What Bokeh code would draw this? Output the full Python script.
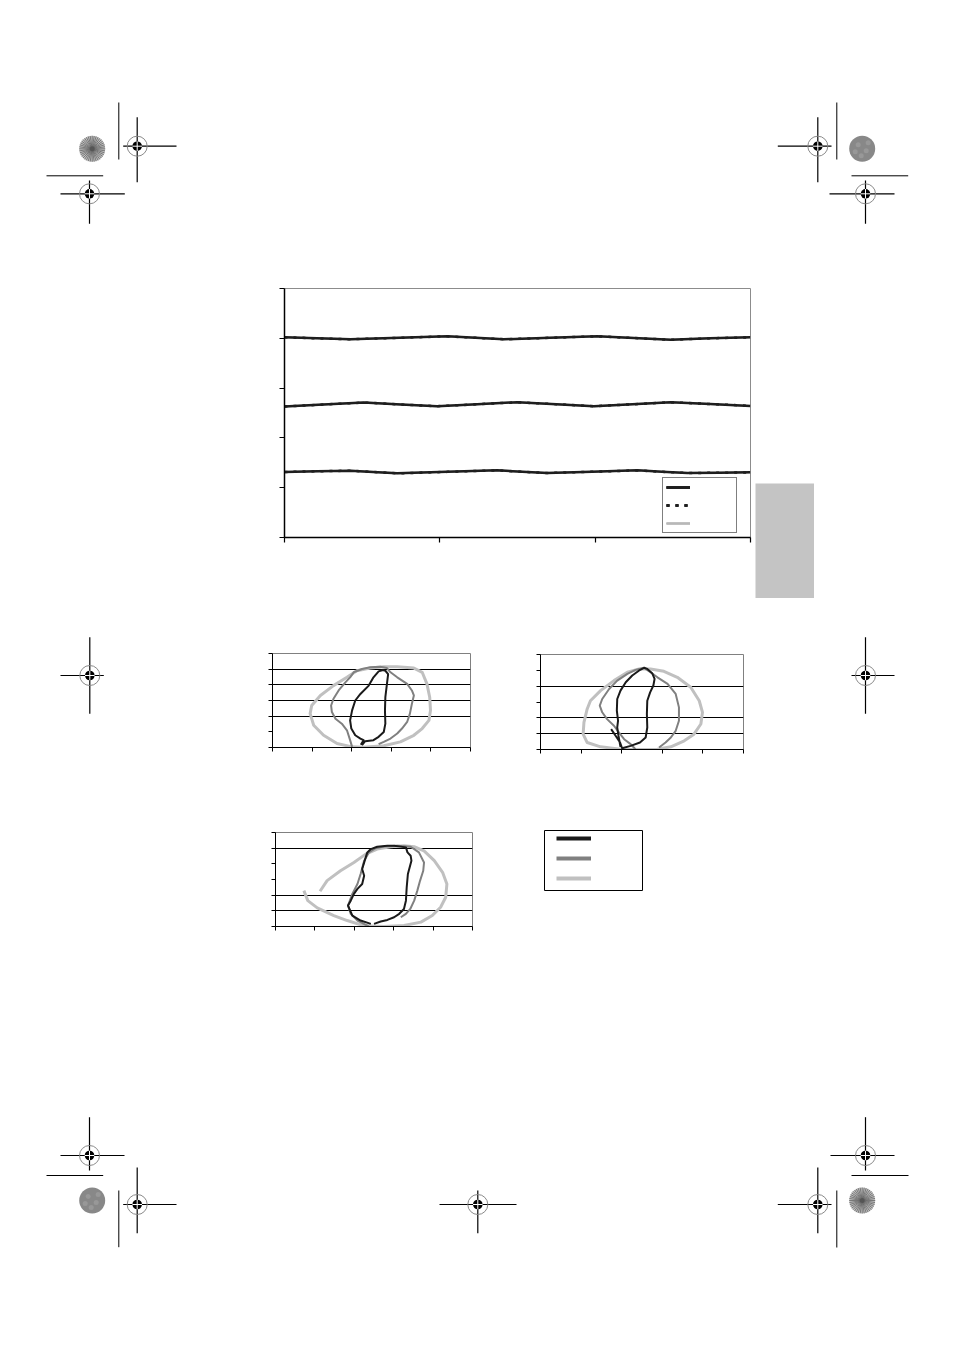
import numpy as np
from bokeh.plotting import figure
from bokeh.models import (Range1d, FixedTicker, CustomJSTickFormatter, Legend,
                          LegendItem, Spacer, ColumnDataSource)
from bokeh.layouts import column, row
from bokeh.embed import file_html
from bokeh.resources import INLINE

# ---------------- data: top chart ----------------
top_x_ticks = [0, 1, 2, 3]
top_y_ticks = [0, 1, 2, 3, 4, 5]

level1_x = [0.0, 0.21, 0.425, 0.74, 1.048, 1.23, 1.412, 1.71, 2.013, 2.25, 2.486, 2.74, 3.0]
level1_y = [4.02, 4.00, 3.98, 4.01, 4.04, 4.01, 3.98, 4.01, 4.04, 4.005, 3.97, 4.00, 4.02]

level2_x = [0.0, 0.25, 0.51, 0.75, 0.983, 1.24, 1.498, 1.75, 1.992, 2.24, 2.486, 2.74, 3.0]
level2_y = [2.63, 2.67, 2.71, 2.67, 2.636, 2.675, 2.716, 2.676, 2.636, 2.675, 2.716, 2.68, 2.643]

level3_x = [0.0, 0.21, 0.425, 0.57, 0.725, 1.05, 1.369, 1.53, 1.691, 1.98, 2.271, 2.43, 2.593, 2.8, 3.0]
level3_y = [1.316, 1.33, 1.342, 1.315, 1.288, 1.318, 1.348, 1.32, 1.295, 1.32, 1.348, 1.32, 1.295, 1.30, 1.308]

# ---------------- data: small charts ----------------
small_x_ticks = [0, 1, 2, 3, 4, 5]
small_y_ticks = [0, 1, 2, 3, 4, 5, 6]
c1_grid = [2, 3, 4, 5]
c2_grid = [1, 2, 4]
c3_grid = [1, 2, 5]

c1_black_x = [2.26, 2.34, 2.55, 2.68, 2.81, 2.85, 2.84, 2.85, 2.89, 2.92, 2.85, 2.79, 2.68, 2.55, 2.43, 2.22, 2.09, 2.01, 1.96, 1.99, 2.09, 2.22, 2.30, 2.23]
c1_black_y = [0.15, 0.40, 0.47, 0.68, 0.99, 1.52, 2.37, 3.21, 4.06, 4.69, 4.90, 4.95, 4.86, 4.48, 3.95, 3.42, 3.00, 2.37, 1.73, 1.21, 0.78, 0.57, 0.47, 0.17]
c1_gray_x = [2.01, 1.96, 1.88, 1.75, 1.59, 1.50, 1.48, 1.54, 1.67, 1.84, 1.96, 2.05, 2.26, 2.47, 2.72, 2.89, 2.98, 3.15, 3.40, 3.52, 3.57, 3.52, 3.47, 3.40, 3.27, 3.15, 2.98, 2.81, 2.68]
c1_gray_y = [0.04, 0.47, 1.10, 1.52, 1.84, 2.26, 2.68, 3.11, 3.64, 4.16, 4.48, 4.80, 5.01, 5.12, 5.16, 5.07, 4.80, 4.48, 4.06, 3.64, 3.32, 2.79, 2.16, 1.63, 1.21, 0.89, 0.57, 0.36, 0.21]
c1_light_x = [2.01, 1.63, 1.29, 1.04, 0.95, 0.99, 1.21, 1.54, 1.88, 2.13, 2.47, 2.81, 3.15, 3.57, 3.78, 3.90, 3.97, 3.99, 3.95, 3.78, 3.57, 3.23, 2.81, 2.30, 2.01]
c1_light_y = [0.04, 0.25, 0.78, 1.42, 2.16, 2.68, 3.32, 3.95, 4.48, 4.90, 5.07, 5.16, 5.16, 5.07, 4.80, 4.06, 3.21, 2.37, 1.73, 1.21, 0.78, 0.36, 0.11, 0.02, 0.04]

c2_black_x = [1.74, 1.85, 1.96, 2.01, 2.22, 2.45, 2.59, 2.63, 2.62, 2.63, 2.70, 2.78, 2.81, 2.75, 2.63, 2.55, 2.43, 2.26, 2.10, 1.97, 1.89, 1.88, 1.91, 1.89, 1.92, 1.97]
c2_black_y = [1.29, 0.87, 0.44, 0.08, 0.23, 0.44, 0.76, 1.39, 2.24, 3.08, 3.61, 4.04, 4.46, 4.82, 5.09, 5.16, 4.99, 4.67, 4.25, 3.72, 3.19, 2.45, 1.82, 1.39, 0.87, 0.17]
c2_gray_x = [2.34, 2.22, 2.06, 1.93, 1.81, 1.64, 1.52, 1.46, 1.52, 1.69, 1.89, 2.14, 2.34, 2.55, 2.71, 2.88, 3.13, 3.33, 3.41, 3.41, 3.33, 3.21, 3.08, 2.92]
c2_gray_y = [0.02, 0.34, 0.65, 1.08, 1.50, 1.92, 2.35, 2.77, 3.19, 3.82, 4.35, 4.78, 5.03, 5.16, 4.88, 4.56, 4.14, 3.51, 2.66, 1.82, 1.18, 0.76, 0.44, 0.13]
c2_light_x = [1.97, 1.48, 1.15, 1.05, 1.07, 1.15, 1.23, 1.48, 1.81, 2.14, 2.43, 2.71, 3.04, 3.37, 3.70, 3.91, 3.99, 3.95, 3.78, 3.54, 3.21, 2.88, 2.38, 1.97]
c2_light_y = [0.02, 0.17, 0.44, 0.97, 1.71, 2.56, 3.08, 3.72, 4.35, 4.88, 5.09, 5.09, 4.94, 4.56, 3.93, 3.08, 2.35, 1.61, 0.97, 0.55, 0.17, 0.02, 0.00, 0.02]

c3_black_x = [2.42, 2.16, 1.95, 1.84, 1.91, 1.99, 2.08, 2.20, 2.25, 2.20, 2.29, 2.33, 2.42, 2.58, 2.84, 3.01, 3.31, 3.35, 3.43, 3.45, 3.36, 3.33, 3.31, 3.26, 3.14, 3.01, 2.84, 2.67, 2.50]
c3_black_y = [0.17, 0.38, 0.70, 1.34, 1.65, 2.08, 2.40, 2.71, 3.24, 3.67, 4.41, 4.73, 4.94, 5.09, 5.15, 5.15, 5.05, 4.73, 4.52, 4.20, 3.35, 2.50, 1.65, 1.12, 0.81, 0.59, 0.42, 0.32, 0.17]
c3_gray_x = [2.37, 2.08, 1.91, 1.84, 1.95, 2.08, 2.16, 2.25, 2.37, 2.54, 2.75, 3.09, 3.43, 3.64, 3.77, 3.75, 3.67, 3.60, 3.52, 3.42, 3.31, 3.18]
c3_gray_y = [0.00, 0.38, 0.81, 1.34, 2.08, 2.71, 3.35, 4.20, 4.73, 5.00, 5.11, 5.15, 5.09, 4.73, 4.09, 3.56, 2.93, 2.29, 1.65, 1.12, 0.81, 0.59]
c3_light_x = [1.13, 1.31, 1.65, 1.99, 2.29, 2.58, 2.92, 3.26, 3.52, 3.77, 4.03, 4.24, 4.35, 4.32, 4.19, 3.98, 3.69, 3.26, 2.75, 2.25, 1.82, 1.48, 1.06, 0.82, 0.72]
c3_light_y = [2.25, 2.93, 3.56, 4.09, 4.62, 4.94, 5.09, 5.15, 5.09, 4.83, 4.20, 3.46, 2.71, 1.87, 1.23, 0.70, 0.28, 0.06, 0.00, 0.04, 0.38, 0.70, 1.19, 1.65, 2.29]

# ---------------- decorative print marks (page coordinates) ----------------
cross_cx = [136.7, 89.0, 817.3, 865.0, 89.3, 865.0, 89.0, 136.7, 477.3, 865.0, 817.3]
cross_cy = [145.7, 193.3, 145.7, 193.3, 675.0, 675.0, 1155.0, 1204.0, 1204.0, 1155.0, 1204.0]
cross_hx0 = [122.7, 60.0, 777.3, 829.0, 60.0, 851.0, 60.0, 122.7, 439.0, 830.0, 777.3]
cross_hx1 = [176.0, 124.3, 831.0, 894.0, 103.3, 894.0, 124.0, 176.0, 516.0, 894.0, 831.0]
cross_vy0 = [116.7, 180.0, 116.7, 180.0, 636.7, 636.7, 1116.7, 1167.0, 1190.0, 1116.7, 1167.0]
cross_vy1 = [181.7, 223.3, 181.7, 223.3, 713.3, 713.3, 1170.0, 1232.7, 1232.7, 1170.0, 1232.7]

trim_x0 = [118.3, 46.0, 836.3, 851.0, 46.0, 118.3, 851.0, 836.3]
trim_x1 = [118.3, 102.7, 836.3, 907.7, 102.7, 118.3, 908.0, 836.3]
trim_y0 = [102.0, 175.3, 102.0, 175.3, 1175.0, 1190.0, 1175.0, 1190.0]
trim_y1 = [159.0, 175.3, 159.0, 175.3, 1175.0, 1246.7, 1175.0, 1247.0]

orn_x = [91.7, 861.7, 91.7, 861.7]
orn_y = [148.3, 148.3, 1200.0, 1200.0]
orn_kind = ["ray", "mottle", "mottle", "ray"]

COMMON = dict(output_backend="svg", toolbar_location=None, frame_align=False)


def blank_axes_formatter():
    return CustomJSTickFormatter(code="return ''")


def marks_fig(w, h, x0, x1, y0, y1):
    p = figure(width=w, height=h, x_range=Range1d(x0, x1), y_range=Range1d(y1, y0),
               x_axis_location=None, y_axis_location=None, min_border=0,
               min_border_left=0, min_border_right=0, min_border_top=0, min_border_bottom=0,
               outline_line_color=None, **COMMON)
    p.grid.visible = False
    # trim lines
    p.segment(x0=trim_x0, x1=trim_x1, y0=trim_y0, y1=trim_y1, line_color="black", line_width=1)
    # ornaments
    for ox, oy, kind in zip(orn_x, orn_y, orn_kind):
        if kind == "ray":
            p.circle(x=[ox], y=[oy], radius=13, fill_color="#c0c0c0", line_color=None)
            ang = np.linspace(0, 2 * np.pi, 40, endpoint=False)
            p.segment(x0=ox + 2 * np.cos(ang), y0=oy + 2 * np.sin(ang),
                      x1=ox + 13 * np.cos(ang), y1=oy + 13 * np.sin(ang),
                      line_color="#666666", line_width=0.8)
            p.circle(x=[ox], y=[oy], radius=2.5, fill_color="#555555", line_color=None)
        else:
            p.circle(x=[ox], y=[oy], radius=13, fill_color="#888888", line_color=None)
            p.circle(x=[ox - 4, ox + 4, ox - 1, ox + 6, ox - 7], y=[oy - 4, oy + 2, oy + 7, oy - 6, oy + 3],
                     radius=2.5, fill_color="#989898", line_color=None)
    # crosshairs
    p.segment(x0=cross_hx0, x1=cross_hx1, y0=cross_cy, y1=cross_cy, line_color="black", line_width=1.2)
    p.segment(x0=cross_cx, x1=cross_cx, y0=cross_vy0, y1=cross_vy1, line_color="black", line_width=1.2)
    p.circle(x=cross_cx, y=cross_cy, radius=10, fill_color=None, line_color="#8a8a8a", line_width=1)
    p.circle(x=cross_cx, y=cross_cy, radius=4.8, fill_color="black", line_color=None)
    cx = np.array(cross_cx)
    cy = np.array(cross_cy)
    p.segment(x0=cx - 4.8, x1=cx + 4.8, y0=cy, y1=cy, line_color="white", line_width=1)
    p.segment(x0=cx, x1=cx, y0=cy - 4.8, y1=cy + 4.8, line_color="white", line_width=1)
    return p


# ---------------- band A ----------------
band_a = marks_fig(938, 242, 8, 946, 8, 250)

# ---------------- band B: top chart ----------------
top = figure(width=747, height=360, x_range=Range1d(0, 3), y_range=Range1d(0, 5),
             min_border_left=276, min_border_right=5, min_border_top=38, min_border_bottom=73,
             outline_line_color="#8c8c8c", outline_line_width=1, **COMMON)
top.grid.visible = False
top.xaxis.ticker = FixedTicker(ticks=top_x_ticks)
top.yaxis.ticker = FixedTicker(ticks=top_y_ticks)
for ax in (top.xaxis[0], top.yaxis[0]):
    ax.formatter = blank_axes_formatter()
    ax.major_tick_in = 0
    ax.major_tick_out = 5
    ax.minor_tick_line_color = None
    ax.axis_line_color = "black"
    ax.axis_line_width = 1.5
    ax.major_tick_line_color = "black"
    ax.major_tick_line_width = 1.2
    ax.major_label_standoff = 0

solid_rs, dash_rs, gray_rs = [], [], []
for lx, ly in ((level1_x, level1_y), (level2_x, level2_y), (level3_x, level3_y)):
    gray_rs.append(top.line(lx, ly, line_color="#b8b8b8", line_width=2, line_join="round"))
    dash_rs.append(top.line(lx, ly, line_color="#1e1e1e", line_width=2.5, line_dash="3 6", line_join="round"))
    solid_rs.append(top.line(lx, ly, line_color="#1e1e1e", line_width=2.5, line_join="round"))

top_legend = Legend(items=[LegendItem(label=" ", renderers=solid_rs),
                           LegendItem(label=" ", renderers=dash_rs),
                           LegendItem(label=" ", renderers=gray_rs)],
                    location=(378, 4), padding=3, spacing=6, margin=0,
                    glyph_height=12, glyph_width=24, label_height=12, label_width=43,
                    label_standoff=0, label_text_font_size="9px",
                    border_line_color="black", border_line_width=1,
                    background_fill_color="white", background_fill_alpha=1)
top.add_layout(top_legend)

tab = figure(width=59, height=115, x_range=Range1d(0, 1), y_range=Range1d(0, 1),
             x_axis_location=None, y_axis_location=None, min_border=0,
             min_border_left=0, min_border_right=0, min_border_top=0, min_border_bottom=0,
             outline_line_color=None, background_fill_color="#c4c4c4",
             border_fill_color="#c4c4c4", **COMMON)
tab.grid.visible = False

band_b = row(top, column(Spacer(width=59, height=233), tab, Spacer(width=59, height=12)),
             Spacer(width=132, height=360))

# ---------------- band C: small charts ----------------
BLACK, GRAY, LIGHT = "#1a1a1a", "#808080", "#c0c0c0"


def small_chart(w, h, bl, br, bt, bb, grid_ticks, curves):
    p = figure(width=w, height=h, x_range=Range1d(0, 5), y_range=Range1d(0, 6),
               min_border_left=bl, min_border_right=br, min_border_top=bt, min_border_bottom=bb,
               outline_line_color="#808080", outline_line_width=1, **COMMON)
    p.xgrid.visible = False
    p.ygrid.ticker = FixedTicker(ticks=grid_ticks)
    p.ygrid.grid_line_color = "black"
    p.ygrid.grid_line_width = 1
    p.xaxis.ticker = FixedTicker(ticks=small_x_ticks)
    p.yaxis.ticker = FixedTicker(ticks=small_y_ticks)
    for ax in (p.xaxis[0], p.yaxis[0]):
        ax.formatter = blank_axes_formatter()
        ax.major_tick_in = 0
        ax.major_tick_out = 4
        ax.minor_tick_line_color = None
        ax.axis_line_color = "black"
        ax.axis_line_width = 1
        ax.major_tick_line_color = "black"
        ax.major_label_standoff = 0
    (lx, ly), (gx, gy), (kx, ky) = curves
    p.line(lx, ly, line_color=LIGHT, line_width=3, line_join="round")
    p.line(gx, gy, line_color=GRAY, line_width=2, line_join="round")
    p.line(kx, ky, line_color=BLACK, line_width=2, line_join="round")
    return p


c1 = small_chart(250, 170, 22, 30, 43, 33, c1_grid,
                 [(c1_light_x, c1_light_y), (c1_gray_x, c1_gray_y), (c1_black_x, c1_black_y)])
c2 = small_chart(270, 170, 40, 27, 44, 31, c2_grid,
                 [(c2_light_x, c2_light_y), (c2_gray_x, c2_gray_y), (c2_black_x, c2_black_y)])
c3 = small_chart(250, 180, 25, 28, 52, 34, c3_grid,
                 [(c3_light_x, c3_light_y), (c3_gray_x, c3_gray_y), (c3_black_x, c3_black_y)])

legfig = figure(width=270, height=180, x_range=Range1d(0, 1), y_range=Range1d(0, 1),
                x_axis_location=None, y_axis_location=None,
                min_border_left=44, min_border_right=128, min_border_top=50, min_border_bottom=70,
                outline_line_color="black", outline_line_width=1, **COMMON)
legfig.grid.visible = False
# legend proxies: kept outside the visible range, only their styles are shown in the legend
leg_src = ColumnDataSource(dict(x=[-5, -4], y=[-5, -5]))
lr_black = legfig.line("x", "y", source=leg_src, line_color=BLACK, line_width=4)
lr_gray = legfig.line("x", "y", source=leg_src, line_color=GRAY, line_width=4)
lr_light = legfig.line("x", "y", source=leg_src, line_color=LIGHT, line_width=4)
small_legend = Legend(items=[LegendItem(label=" ", renderers=[lr_black]),
                             LegendItem(label=" ", renderers=[lr_gray]),
                             LegendItem(label=" ", renderers=[lr_light])],
                      location=(12, 4), padding=0, spacing=4, margin=0,
                      glyph_height=16, glyph_width=35, label_height=16, label_width=0,
                      label_standoff=0, label_text_font_size="9px",
                      border_line_color=None, background_fill_alpha=0)
legfig.add_layout(small_legend)

left_marks = marks_fig(242, 350, 8, 250, 610, 960)
right_marks = marks_fig(176, 350, 770, 946, 610, 960)

band_c = row(left_marks, column(row(c1, c2), row(c3, legfig)), right_marks)

# ---------------- band D ----------------
band_d = marks_fig(938, 378, 8, 946, 960, 1338)

page = row(Spacer(width=8, height=10),
           column(Spacer(width=938, height=8), band_a, band_b, band_c, band_d))

open("out.html", "w").write(file_html(page, INLINE))
